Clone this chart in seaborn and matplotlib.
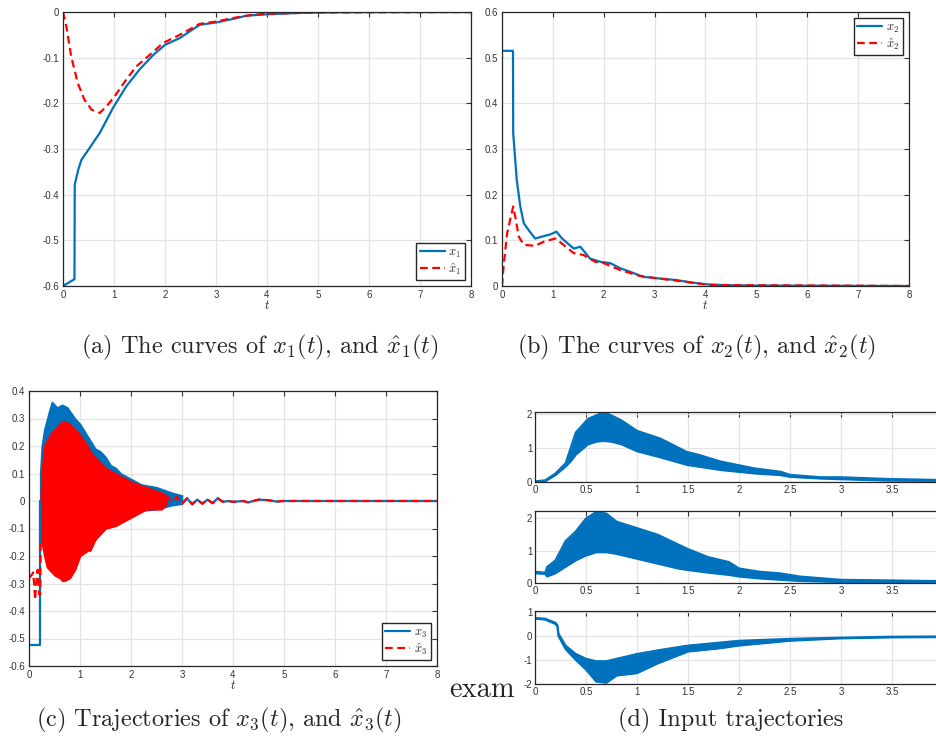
import matplotlib
matplotlib.use("Agg")
import matplotlib.pyplot as plt
import seaborn as sns

BLUE = "#0072BD"
RED = "#FF0000"

# ---- (a) x1 and estimate
t_x1 = [0, 0.225, 0.23, 0.3, 0.36, 0.52, 0.72, 0.98, 1.24, 1.5, 1.77, 2.0, 2.29, 2.68, 3.0,
        3.34, 3.6, 4.0, 4.64, 5.04, 6, 8]
x1 = [-0.6, -0.585, -0.378, -0.345, -0.324, -0.298, -0.265, -0.21, -0.163, -0.126, -0.094,
      -0.072, -0.057, -0.028, -0.023, -0.015, -0.008, -0.005, -0.002, -0.001, 0, 0]
t_x1h = [0, 0.065, 0.16, 0.29, 0.42, 0.56, 0.72, 0.85, 1.01, 1.24, 1.44, 1.7, 1.96, 2.29,
         2.68, 3.0, 3.34, 3.73, 4.0, 4.64, 5.04, 8]
x1h = [0, -0.031, -0.097, -0.156, -0.192, -0.214, -0.221, -0.207, -0.185, -0.148, -0.119,
       -0.094, -0.068, -0.05, -0.026, -0.021, -0.013, -0.006, -0.004, -0.002, -0.001, 0]

# ---- (b) x2 and estimate
t_x2 = [0, 0.216, 0.22, 0.26, 0.29, 0.36, 0.43, 0.52, 0.65, 0.78, 0.95, 1.07, 1.18, 1.41,
        1.54, 1.73, 1.93, 2.13, 2.32, 2.52, 2.78, 3.04, 3.43, 3.7, 3.99, 4.35, 4.94, 8]
x2 = [0.515, 0.515, 0.335, 0.276, 0.232, 0.174, 0.137, 0.123, 0.104, 0.108, 0.113, 0.119,
      0.104, 0.082, 0.086, 0.060, 0.053, 0.050, 0.039, 0.031, 0.020, 0.017, 0.013, 0.008,
      0.004, 0.002, 0.001, 0]
t_x2h = [0, 0.03, 0.1, 0.16, 0.22, 0.26, 0.33, 0.43, 0.65, 0.82, 1.05, 1.21, 1.41, 1.6,
         1.83, 2.0, 2.32, 2.71, 3.04, 3.7, 4.09, 8]
x2h = [0, 0.042, 0.115, 0.145, 0.174, 0.152, 0.108, 0.09, 0.088, 0.097, 0.104, 0.09, 0.072,
       0.068, 0.053, 0.05, 0.035, 0.022, 0.017, 0.008, 0.002, 0]

# ---- (c) x3 and estimate (dense oscillation given as envelopes)
t_x3_pre = [0, 0.22, 0.22]
x3_pre = [-0.525, -0.525, 0.0]
t_x3_band = [0.22, 0.25, 0.3, 0.4, 0.45, 0.55, 0.65, 0.75, 0.9, 1.0, 1.1, 1.2, 1.3, 1.4,
             1.5, 1.6, 1.7, 1.8, 2.0, 2.2, 2.5, 2.8, 3.0]
x3_up = [0.1, 0.2, 0.26, 0.33, 0.36, 0.34, 0.35, 0.34, 0.3, 0.28, 0.25, 0.22, 0.19, 0.18,
         0.16, 0.13, 0.12, 0.1, 0.08, 0.06, 0.05, 0.03, 0.02]
x3_lo = [-0.1, -0.11, -0.12, -0.14, -0.15, -0.16, -0.17, -0.17, -0.18, -0.18, -0.17, -0.15,
         -0.12, -0.1, -0.08, -0.07, -0.06, -0.06, -0.04, -0.035, -0.03, -0.015, -0.01]
t_x3h_pre = [0, 0.05, 0.08, 0.1, 0.12, 0.14, 0.17, 0.2, 0.22, 0.23]
x3h_pre = [-0.28, -0.27, -0.26, -0.3, -0.36, -0.3, -0.25, -0.34, -0.34, -0.15]
t_x3h_band = [0.23, 0.25, 0.3, 0.35, 0.45, 0.5, 0.6, 0.65, 0.7, 0.8, 0.9, 1.0, 1.15, 1.2,
              1.3, 1.4, 1.5, 1.7, 2.0, 2.3, 2.6, 2.7]
x3h_up = [0.0, 0.1, 0.2, 0.22, 0.25, 0.26, 0.28, 0.29, 0.29, 0.28, 0.26, 0.24, 0.2, 0.18,
          0.16, 0.14, 0.12, 0.1, 0.07, 0.05, 0.03, 0.02]
x3h_lo = [-0.15, -0.15, -0.2, -0.24, -0.26, -0.27, -0.28, -0.29, -0.29, -0.28, -0.25, -0.2,
          -0.18, -0.18, -0.14, -0.12, -0.1, -0.09, -0.06, -0.03, -0.03, -0.01]
t_x3_tail = [2.7, 2.8, 2.9, 3.0, 3.1, 3.2, 3.3, 3.4, 3.5, 3.6, 3.7, 3.8, 3.9, 4.0, 4.2,
             4.3, 4.5, 4.7, 4.85, 5.0, 8.0]
x3_tail = [0.02, -0.005, 0.015, -0.01, 0.01, -0.012, 0.005, -0.01, 0.005, -0.008, 0.01,
           -0.003, 0.0, -0.003, 0.0, -0.005, 0.005, 0.003, -0.002, 0, 0]

# ---- (d) inputs (envelopes of the chattering signals)
t_u1 = [0, 0.1, 0.2, 0.3, 0.35, 0.4, 0.52, 0.6, 0.67, 0.75, 0.85, 1.0, 1.23, 1.49, 1.6,
        1.82, 2.15, 2.41, 2.5, 2.8, 3.0, 3.46, 3.97]
u1_up = [0.02, 0.05, 0.25, 0.55, 1.0, 1.45, 1.85, 1.95, 2.05, 1.95, 1.8, 1.5, 1.27, 0.88,
         0.8, 0.6, 0.4, 0.3, 0.21, 0.14, 0.14, 0.09, 0.06]
u1_lo = [0.0, 0.02, 0.2, 0.45, 0.6, 0.8, 1.1, 1.18, 1.2, 1.18, 1.1, 0.9, 0.72, 0.5, 0.45,
         0.35, 0.25, 0.2, 0.15, 0.1, 0.08, 0.04, 0.03]
t_u2 = [0, 0.1, 0.12, 0.2, 0.3, 0.4, 0.5, 0.6, 0.7, 0.8, 1.0, 1.2, 1.4, 1.5, 1.7, 1.9, 2.0,
        2.2, 2.4, 2.6, 3.0, 3.5, 3.97]
u2_up = [0.35, 0.32, 0.5, 0.7, 1.3, 1.6, 2.0, 2.2, 2.15, 1.9, 1.7, 1.5, 1.2, 1.05, 0.8,
         0.65, 0.45, 0.35, 0.3, 0.2, 0.1, 0.08, 0.06]
u2_lo = [0.3, 0.28, 0.2, 0.3, 0.5, 0.7, 0.85, 0.95, 0.95, 0.9, 0.75, 0.6, 0.45, 0.4, 0.32,
         0.25, 0.2, 0.14, 0.1, 0.06, 0.03, 0.03, 0.03]
t_u3 = [0, 0.1, 0.2, 0.22, 0.23, 0.3, 0.4, 0.5, 0.6, 0.7, 0.8, 1.0, 1.2, 1.5, 1.8, 2.0, 2.5,
        3.0, 3.5, 3.97]
u3_up = [0.75, 0.72, 0.55, 0.45, 0.1, -0.4, -0.75, -0.95, -1.05, -1.05, -0.95, -0.75, -0.6,
         -0.4, -0.28, -0.2, -0.12, -0.07, -0.03, -0.02]
u3_lo = [0.72, 0.68, 0.5, 0.4, 0.0, -0.55, -1.0, -1.4, -1.9, -1.95, -1.65, -1.55, -1.15,
         -0.65, -0.52, -0.4, -0.2, -0.1, -0.06, -0.05]

captions = [r"(a) The curves of $x_1(t)$, and $\hat{x}_1(t)$",
            r"(b) The curves of $x_2(t)$, and $\hat{x}_2(t)$",
            r"(c) Trajectories of $x_3(t)$, and $\hat{x}_3(t)$",
            "(d) Input trajectories"]

sns.set_style("white")
plt.rcParams["font.family"] = ["Liberation Sans", "DejaVu Sans"]
plt.rcParams["mathtext.fontset"] = "cm"
plt.rcParams["axes.unicode_minus"] = False

W, H = 937, 743
fig = plt.figure(figsize=(W / 100, H / 100), dpi=100)


def box(l, r, t, b):
    return [l / W, 1 - b / H, (r - l) / W, (b - t) / H]


def style(ax, xt, yt, xlim, ylim):
    ax.set_xlim(xlim)
    ax.set_ylim(ylim)
    ax.set_xticks(xt)
    ax.set_yticks(yt)
    ax.set_xticklabels([f"{v:g}" for v in xt])
    ax.set_yticklabels([f"{v:g}" for v in yt])
    ax.grid(True, color="#e3e3e3", lw=0.9)
    ax.set_axisbelow(True)
    ax.tick_params(direction="in", length=3.5, width=0.8, labelsize=7, colors="#333333",
                   top=True, right=True, pad=3)
    for s in ax.spines.values():
        s.set_color("#262626")
        s.set_linewidth(0.9)
        s.set_visible(True)


def leg(ax, loc):
    ax.legend(loc=loc, fontsize=9, frameon=True, fancybox=False, edgecolor="#262626",
              framealpha=1, borderpad=0.25, labelspacing=0.1, handlelength=2.0,
              handletextpad=0.3, borderaxespad=0.5)


dash = (0, (3.5, 2.0))

# (a)
ax = fig.add_axes(box(63, 471, 12, 286))
sns.lineplot(x=t_x1, y=x1, ax=ax, color=BLUE, lw=1.6, estimator=None, sort=False, label=r"$x_1$")
sns.lineplot(x=t_x1h, y=x1h, ax=ax, color=RED, lw=1.6, estimator=None, sort=False,
             linestyle=dash, label=r"$\hat{x}_1$")
style(ax, range(0, 9), [-0.6, -0.5, -0.4, -0.3, -0.2, -0.1, 0], (0, 8), (-0.6, 0))
ax.set_xlabel(r"$t$", fontsize=9, labelpad=-1)
leg(ax, "lower right")

# (b)
ax = fig.add_axes(box(502, 909, 12, 286))
sns.lineplot(x=t_x2, y=x2, ax=ax, color=BLUE, lw=1.6, estimator=None, sort=False, label=r"$x_2$")
sns.lineplot(x=t_x2h, y=x2h, ax=ax, color=RED, lw=1.6, estimator=None, sort=False,
             linestyle=dash, label=r"$\hat{x}_2$")
style(ax, range(0, 9), [0, 0.1, 0.2, 0.3, 0.4, 0.5, 0.6], (0, 8), (0, 0.6))
ax.set_xlabel(r"$t$", fontsize=9, labelpad=-1)
leg(ax, "upper right")

# (c)
ax = fig.add_axes(box(29, 437, 391, 666))
ax.fill_between(t_x3_band, x3_lo, x3_up, color=BLUE, lw=1.2, edgecolor=BLUE)
sns.lineplot(x=t_x3_pre, y=x3_pre, ax=ax, color=BLUE, lw=1.6, estimator=None, sort=False)
sns.lineplot(x=t_x3_tail, y=x3_tail, ax=ax, color=BLUE, lw=1.6, estimator=None, sort=False,
             label=r"$x_3$")
ax.fill_between(t_x3h_band, x3h_lo, x3h_up, color=RED, lw=1.2, edgecolor=RED)
sns.lineplot(x=t_x3h_pre, y=x3h_pre, ax=ax, color=RED, lw=1.6, estimator=None, sort=False,
             linestyle=dash)
sns.lineplot(x=t_x3_tail, y=x3_tail, ax=ax, color=RED, lw=1.6, estimator=None, sort=False,
             linestyle=dash, label=r"$\hat{x}_3$")
style(ax, range(0, 9), [-0.6, -0.5, -0.4, -0.3, -0.2, -0.1, 0, 0.1, 0.2, 0.3, 0.4], (0, 8),
      (-0.6, 0.4))
ax.set_xlabel(r"$t$", fontsize=9, labelpad=-1)
leg(ax, "lower right")

# (d)
u_sets = [(t_u1, u1_lo, u1_up, (0, 2.05), [0, 1, 2], 412, 482),
          (t_u2, u2_lo, u2_up, (0, 2.23), [0, 1, 2], 511, 583),
          (t_u3, u3_lo, u3_up, (-2, 1.04), [-2, -1, 0, 1], 611, 684)]
for tt, lo, up, yl, yt, top, bot in u_sets:
    ax = fig.add_axes(box(535, 941, top, bot))
    ax.fill_between(tt, lo, up, color=BLUE, lw=0)
    sns.lineplot(x=tt, y=lo, ax=ax, color=BLUE, lw=1.5, estimator=None, sort=False)
    sns.lineplot(x=tt, y=up, ax=ax, color=BLUE, lw=1.5, estimator=None, sort=False)
    style(ax, [0, 0.5, 1, 1.5, 2, 2.5, 3, 3.5], yt, (0, 3.98), yl)
    ax.tick_params(pad=2)

# captions
cap_kw = dict(fontsize=17.5, family="cmr10", ha="center", va="center")
fig.text(260 / W, 1 - 347 / H, captions[0], **cap_kw)
fig.text(697 / W, 1 - 347 / H, captions[1], **cap_kw)
fig.text(219 / W, 1 - 720 / H, captions[2], **cap_kw)
fig.text(731 / W, 1 - 720 / H, captions[3], **cap_kw)
fig.text(449 / W, 1 - 690 / H, "exam", fontsize=20.5, family="cmr10", ha="left", va="center")

fig.savefig("out.png", dpi=100)
